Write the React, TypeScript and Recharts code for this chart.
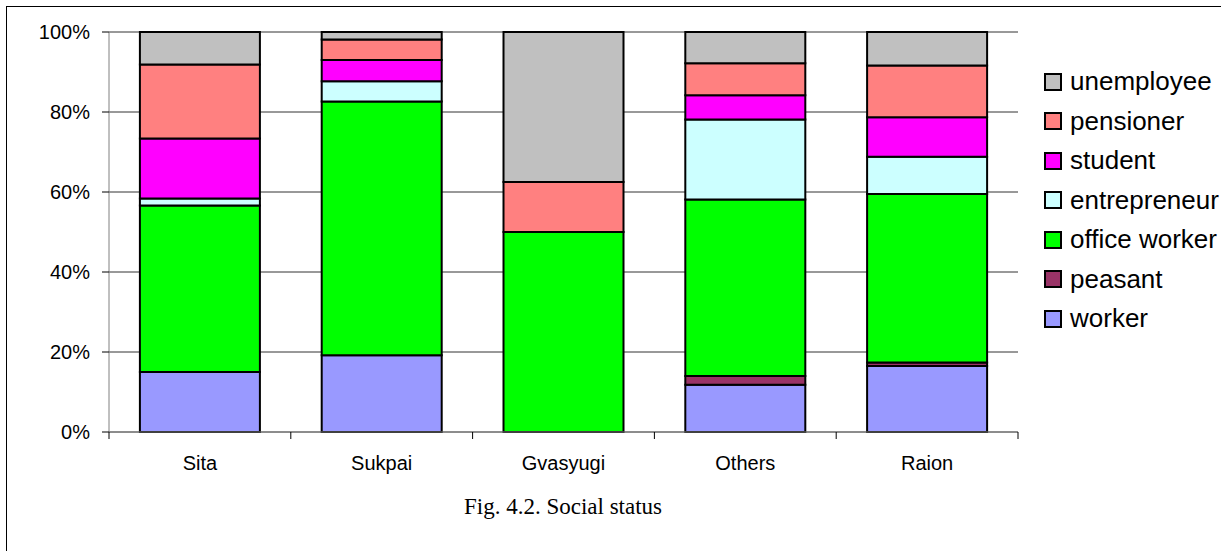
import { Bar, BarChart, CartesianGrid, XAxis, YAxis } from "recharts";

const CATEGORIES = ["Sita", "Sukpai", "Gvasyugi", "Others", "Raion"];
const WORKER = [15, 19.2, 0, 11.8, 16.5];
const PEASANT = [0, 0, 0, 2.2, 0.9];
const OFFICE_WORKER = [41.6, 63.4, 50, 44.1, 42.1];
const ENTREPRENEUR = [1.8, 5.1, 0, 20, 9.3];
const STUDENT = [15, 5.3, 0, 6.1, 9.9];
const PENSIONER = [18.5, 5.1, 12.5, 8, 12.9];
const UNEMPLOYEE = [8.1, 1.9, 37.5, 7.8, 8.4];
const Y_TICKS = [0, 0.2, 0.4, 0.6, 0.8, 1];

// bottom to top, as stacked
const SERIES = [
  { key: "worker", name: "worker", color: "#9999FF", values: WORKER },
  { key: "peasant", name: "peasant", color: "#993366", values: PEASANT },
  { key: "office", name: "office worker", color: "#00FF00", values: OFFICE_WORKER },
  { key: "entrepreneur", name: "entrepreneur", color: "#CCFFFF", values: ENTREPRENEUR },
  { key: "student", name: "student", color: "#FF00FF", values: STUDENT },
  { key: "pensioner", name: "pensioner", color: "#FF8080", values: PENSIONER },
  { key: "unemployee", name: "unemployee", color: "#C0C0C0", values: UNEMPLOYEE },
];

const data = CATEGORIES.map((name, i) => {
  const row: Record<string, string | number> = { name };
  SERIES.forEach((s) => (row[s.key] = s.values[i]));
  return row;
});

const SANS = "'Liberation Sans', Arial, sans-serif";
const X_TICK_MARGIN = 24;

// category label plus Excel-style tick marks between the categories
const CategoryTick = (props: any) => {
  const { x, y, payload, index, visibleTicksCount } = props;
  const axisY = y - X_TICK_MARGIN;
  const half = payload.offset || 0;
  const isLast = index === visibleTicksCount - 1;
  return (
    <g>
      <line x1={x - half} x2={x - half} y1={axisY} y2={axisY + 7} stroke="#000" />
      {isLast && <line x1={x + half} x2={x + half} y1={axisY} y2={axisY + 7} stroke="#000" />}
      <text x={x} y={y} dy="0.71em" textAnchor="middle" fill="#000" fontSize={20} fontFamily={SANS}>
        {payload.value}
      </text>
    </g>
  );
};

const LegendBox = () => (
  <div style={{ fontFamily: SANS, fontSize: 26, color: "#000" }}>
    {[...SERIES].reverse().map((s) => (
      <div key={s.key} style={{ display: "flex", alignItems: "center", height: 39.5 }}>
        <span
          style={{
            width: 14,
            height: 14,
            background: s.color,
            border: "2px solid #000",
            marginRight: 8,
            flex: "none",
          }}
        />
        <span style={{ whiteSpace: "nowrap" }}>{s.name}</span>
      </div>
    ))}
  </div>
);

export default function App() {
  return (
    <div
      style={{
        position: "absolute",
        left: 0,
        top: 0,
        width: 1221,
        height: 551,
        overflow: "hidden",
        background: "#fff",
      }}
    >
      <div
        style={{
          position: "absolute",
          left: 6,
          top: 6,
          width: 1300,
          height: 600,
          border: "1px solid #000",
        }}
      />
      <div style={{ position: "absolute", left: 0, top: 0 }}>
        <BarChart
          width={1221}
          height={500}
          data={data}
          stackOffset="expand"
          barCategoryGap="17%"
          margin={{ top: 32, right: 203, left: 0, bottom: 38 }}
        >
          <CartesianGrid vertical={false} stroke="#333" />
          <XAxis
            dataKey="name"
            axisLine={{ stroke: "#808080" }}
            tickLine={false}
            tickSize={0}
            tickMargin={X_TICK_MARGIN}
            tick={<CategoryTick />}
            interval={0}
            height={30}
          />
          <YAxis
            ticks={Y_TICKS}
            domain={[0, 1]}
            tickFormatter={(v: number) => `${Math.round(v * 100)}%`}
            tick={{ fill: "#000", fontSize: 20, fontFamily: SANS }}
            axisLine={{ stroke: "#808080" }}
            tickLine={{ stroke: "#000" }}
            tickSize={7}
            tickMargin={12}
            width={109}
          />
          <YAxis
            yAxisId="frame"
            orientation="right"
            domain={[0, 1]}
            tick={false}
            tickLine={false}
            axisLine={{ stroke: "#808080" }}
            width={0}
          />
          {SERIES.map((s) => (
            <Bar
              key={s.key}
              dataKey={s.key}
              name={s.name}
              stackId="a"
              fill={s.color}
              stroke="#000"
              strokeWidth={2}
              isAnimationActive={false}
            />
          ))}
        </BarChart>
      </div>
      <div style={{ position: "absolute", left: 1044, top: 62 }}>
        <LegendBox />
      </div>
      <div
        style={{
          position: "absolute",
          left: 313,
          width: 500,
          top: 494,
          textAlign: "center",
          fontFamily: "'Liberation Serif', 'Times New Roman', serif",
          fontSize: 23,
          color: "#000",
        }}
      >
        Fig. 4.2. Social status
      </div>
    </div>
  );
}
